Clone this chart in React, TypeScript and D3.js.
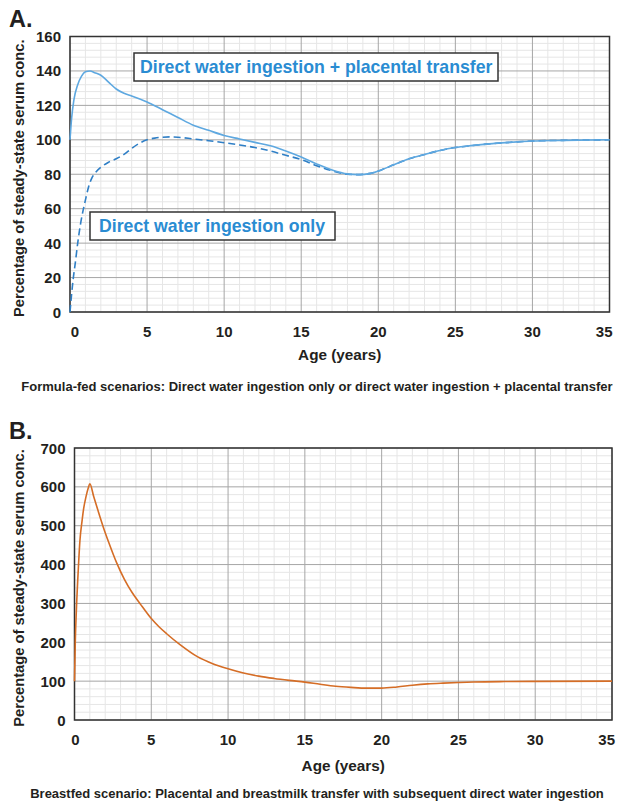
import React, { useEffect, useRef } from 'react';
import * as d3 from 'd3';

// Panel A: formula-fed scenarios
const agesPlacental = [0, 0.1, 0.25, 0.5, 0.75, 1.0, 1.3, 1.6, 2.0, 2.5, 3.0, 3.5, 4.0, 5.0, 6.0, 7.0, 8.0, 9.0, 10, 11, 12, 13, 14, 15, 16, 17, 18, 18.7, 19.5, 20.2, 21, 22, 23, 24, 25, 26, 27, 28, 29, 30, 32, 35];
const placentalValues = [100, 112, 123, 132, 137, 139.5, 140, 139, 137.5, 133.5, 129.5, 127, 125.5, 122, 117.5, 113, 108.5, 105.5, 102.5, 100.5, 98.5, 96.5, 93.5, 90, 86, 82.5, 80.2, 79.8, 80.5, 82.5, 85.5, 89, 91.5, 93.8, 95.5, 96.6, 97.5, 98.2, 98.8, 99.3, 99.7, 100];

const agesDirect = [0, 0.1, 0.2, 0.35, 0.5, 0.7, 0.85, 1.0, 1.2, 1.4, 1.7, 2.0, 2.5, 3.0, 3.5, 4.0, 4.5, 5.0, 5.5, 6.0, 6.5, 7.0, 8.0, 9, 10, 11, 12, 13, 14, 15, 16, 17, 18, 18.7, 19.5, 20.2, 21, 22, 23, 24, 25, 26, 27, 28, 29, 30, 32, 35];
const directValues = [0, 10, 18.6, 29, 40, 52, 59, 65, 72.5, 77.5, 81.5, 84, 87, 89, 91.5, 95, 98, 100, 101, 101.5, 101.7, 101.5, 100.5, 99.5, 98.3, 97, 95.5, 93.5, 91, 88.5, 85, 82, 80, 79.8, 80.5, 82.5, 85.5, 89, 91.5, 93.8, 95.5, 96.6, 97.5, 98.2, 98.8, 99.3, 99.7, 100];

// Panel B: breastfed scenario
const agesBreastfed = [0, 0.05, 0.13, 0.25, 0.35, 0.5, 0.6, 0.75, 0.9, 1.0, 1.25, 1.5, 1.87, 2.25, 2.74, 3.25, 3.75, 4.26, 5.0, 5.5, 6.0, 6.87, 8.0, 9.0, 10, 11, 12, 13, 14, 15, 16, 17, 18, 19, 20, 21, 22, 23, 24, 25, 26, 28, 30, 35];
const breastfedValues = [100, 200, 290, 390, 460, 515, 545, 575, 598, 608, 575, 543, 497, 455, 405, 362, 328, 300, 261, 240, 222, 194, 163, 145, 132, 121, 113, 107, 102, 97.5, 92, 87, 84, 82, 82, 85, 89.5, 93, 95, 96.5, 97.8, 99, 99.5, 100];

const xTicks = [0, 5, 10, 15, 20, 25, 30, 35];
const yTicksA = [0, 20, 40, 60, 80, 100, 120, 140, 160];
const yTicksB = [0, 100, 200, 300, 400, 500, 600, 700];

const FONT = '"Liberation Sans", Arial, Helvetica, sans-serif';
const TEXT = '#231f20';

type Panel = {
  label: string;
  labelY: number;
  left: number;
  right: number;
  top: number;
  bottom: number;
  yMax: number;
  yMinorStep: number;
  yTicks: number[];
  caption: string;
  axisTitleY: number;
  captionY: number;
  zeroShift: number;
};

const drawPanel = (svg: any, p: Panel) => {
  const x = d3.scaleLinear().domain([0, 35]).range([p.left, p.right]);
  const y = d3.scaleLinear().domain([0, p.yMax]).range([p.bottom, p.top]);
  const g = svg.append('g');

  // minor grid
  const xMinor = d3.range(0, 36, 1).filter(v => v % 5 !== 0);
  const yMinor = d3.range(0, p.yMax + 0.01, p.yMinorStep).filter(v => p.yTicks.indexOf(v) < 0);
  g.selectAll('.xminor').data(xMinor).enter().append('line')
    .attr('x1', d => x(d)).attr('x2', d => x(d))
    .attr('y1', p.top).attr('y2', p.bottom)
    .attr('stroke', '#e6e6e6').attr('stroke-width', 1);
  g.selectAll('.yminor').data(yMinor).enter().append('line')
    .attr('x1', p.left).attr('x2', p.right)
    .attr('y1', d => y(d)).attr('y2', d => y(d))
    .attr('stroke', '#e6e6e6').attr('stroke-width', 1);

  // major grid
  g.selectAll('.xmajor').data(xTicks).enter().append('line')
    .attr('x1', d => x(d)).attr('x2', d => x(d))
    .attr('y1', p.top).attr('y2', p.bottom)
    .attr('stroke', '#a6a6a6').attr('stroke-width', 1);
  g.selectAll('.ymajor').data(p.yTicks).enter().append('line')
    .attr('x1', p.left).attr('x2', p.right)
    .attr('y1', d => y(d)).attr('y2', d => y(d))
    .attr('stroke', '#a6a6a6').attr('stroke-width', 1);

  // frame
  g.append('rect')
    .attr('x', p.left).attr('y', p.top)
    .attr('width', p.right - p.left).attr('height', p.bottom - p.top)
    .attr('fill', 'none').attr('stroke', '#333').attr('stroke-width', 1.5);

  // tick labels
  g.selectAll('.ylab').data(p.yTicks).enter().append('text')
    .attr('x', p.left - 9).attr('y', d => y(d) + 5.5)
    .attr('text-anchor', 'end')
    .attr('font-family', FONT).attr('font-weight', 'bold').attr('font-size', 15)
    .attr('fill', TEXT)
    .text(d => d);
  g.selectAll('.xlab').data(xTicks).enter().append('text')
    .attr('x', d => d === 0 ? x(d) + p.zeroShift : d === 35 ? p.right + 3 : x(d))
    .attr('y', p.bottom + 25)
    .attr('text-anchor', d => d === 35 ? 'end' : 'middle')
    .attr('font-family', FONT).attr('font-weight', 'bold').attr('font-size', 15)
    .attr('fill', TEXT)
    .text(d => d);

  // titles
  g.append('text')
    .attr('transform', `translate(${24},${(p.top + p.bottom) / 2 + 4}) rotate(-90)`)
    .attr('text-anchor', 'middle')
    .attr('font-family', FONT).attr('font-weight', 'bold').attr('font-size', 14.7)
    .attr('fill', TEXT)
    .text('Percentage of steady-state serum conc.');
  g.append('text')
    .attr('x', (p.left + p.right) / 2).attr('y', p.axisTitleY)
    .attr('text-anchor', 'middle')
    .attr('font-family', FONT).attr('font-weight', 'bold').attr('font-size', 15.3)
    .attr('fill', TEXT)
    .text('Age (years)');
  g.append('text')
    .attr('x', 317).attr('y', p.captionY)
    .attr('text-anchor', 'middle')
    .attr('font-family', FONT).attr('font-weight', 'bold').attr('font-size', 13)
    .attr('fill', TEXT)
    .text(p.caption);
  g.append('text')
    .attr('x', 9).attr('y', p.labelY)
    .attr('font-family', FONT).attr('font-weight', 'bold').attr('font-size', 23.5)
    .attr('fill', TEXT)
    .text(p.label);

  return { x, y, g };
};

const drawLine = (g: any, x: any, y: any, ages: number[], vals: number[], color: string, dash?: string) => {
  const line = d3.line<number>()
    .x((d, i) => x(ages[i]))
    .y(d => y(d))
    .curve(d3.curveMonotoneX);
  const path = g.append('path')
    .attr('d', line(vals))
    .attr('fill', 'none')
    .attr('stroke', color)
    .attr('stroke-width', 1.6);
  if (dash) path.attr('stroke-dasharray', dash);
};

const drawBox = (g: any, x: number, y: number, w: number, h: number, pad: number, label: string) => {
  g.append('rect')
    .attr('x', x).attr('y', y).attr('width', w).attr('height', h)
    .attr('fill', '#fff').attr('stroke', '#333').attr('stroke-width', 1.5);
  g.append('text')
    .attr('x', x + pad).attr('y', y + h / 2 + 6)
    .attr('font-family', FONT).attr('font-weight', 'bold').attr('font-size', 17.7)
    .attr('fill', '#2a8cd2')
    .text(label);
};

const App = () => {
  const ref = useRef<SVGSVGElement>(null);

  useEffect(() => {
    document.body.style.margin = '0';
    const svg = d3.select(ref.current);
    svg.selectAll('*').remove();

    const a = drawPanel(svg, {
      label: 'A.', labelY: 27,
      left: 70, right: 609.5, top: 36.5, bottom: 312,
      yMax: 160, yMinorStep: 4, yTicks: yTicksA,
      caption: 'Formula-fed scenarios: Direct water ingestion only or direct water ingestion + placental transfer',
      axisTitleY: 360, captionY: 391, zeroShift: 5,
    });
    drawLine(a.g, a.x, a.y, agesDirect, directValues, '#2f7fc6', '7,4');
    drawLine(a.g, a.x, a.y, agesPlacental, placentalValues, '#5ea8e0');
    drawBox(a.g, 134, 53, 364, 28, 6, 'Direct water ingestion + placental transfer');
    drawBox(a.g, 90, 212, 245, 28, 9, 'Direct water ingestion only');

    const b = drawPanel(svg, {
      label: 'B.', labelY: 439,
      left: 74.5, right: 612, top: 448, bottom: 720,
      yMax: 700, yMinorStep: 20, yTicks: yTicksB,
      caption: 'Breastfed scenario: Placental and breastmilk transfer with subsequent direct water ingestion',
      axisTitleY: 771, captionY: 798, zeroShift: 1,
    });
    drawLine(b.g, b.x, b.y, agesBreastfed, breastfedValues, '#d56d26');
  }, []);

  return <svg ref={ref} width={617} height={805} style={{ display: 'block', background: '#fff' }} />;
};

export default App;
